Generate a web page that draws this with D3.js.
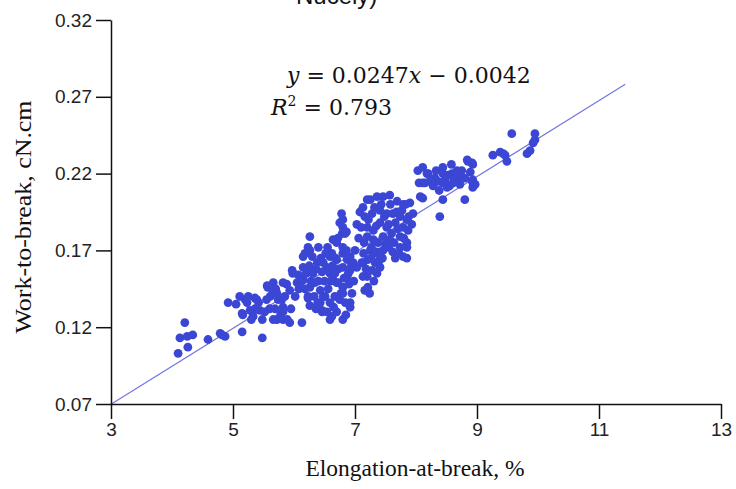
<!DOCTYPE html>
<html>
<head>
<meta charset="utf-8">
<script src="https://cdn.jsdelivr.net/npm/d3@7"></script>
<style>
  body { margin: 0; background: #fff; }
  svg { display: block; }
</style>
</head>
<body>
<div id="chart"></div>
<script>
// elongation-at-break (%) and work-to-break (cN.cm)
const elongation = [
  4.21, 4.13, 4.25, 4.34, 4.26, 4.10, 4.59, 4.79, 4.87, 4.82,
  4.92, 5.11, 5.23, 5.15, 5.15, 5.28, 5.36, 5.20, 5.16, 5.48,
  5.39, 5.36, 5.48, 5.33, 5.44,
  5.57, 5.66, 5.72, 5.80, 5.82, 5.89, 5.72, 5.93, 5.98, 6.05,
  6.15, 6.13, 6.23, 6.26, 6.43, 6.46, 6.59, 6.80, 6.31, 6.48,
  6.59, 6.70, 6.80, 6.92, 6.59, 6.80, 7.13, 7.20, 5.56, 5.82,
  5.66, 5.82, 5.93, 5.61, 5.74, 5.82, 5.69, 5.97, 6.07, 6.15,
  6.26, 6.23, 6.30, 6.38, 6.46, 6.54, 6.34, 6.43, 6.51, 6.59,
  6.23, 6.39, 6.46, 6.54, 6.62, 6.62, 6.70, 6.79, 6.75, 6.67,
  6.72, 6.80, 6.87, 6.92, 6.67, 6.75, 6.84, 6.92, 6.92, 6.97,
  7.03, 6.26, 6.15, 6.31, 6.64, 6.80, 6.70, 6.80, 6.64, 6.26,
  6.80, 6.84, 6.80, 6.87, 6.89, 7.16, 7.21, 7.20, 7.28, 7.36,
  7.38, 7.13, 7.25, 7.36, 7.46, 7.57, 7.69, 7.79, 7.90, 7.16,
  7.28, 7.41, 7.52, 7.62, 7.74, 7.85, 7.95, 7.20, 7.30, 7.41,
  7.52, 7.66, 7.79, 7.93, 7.20, 7.30, 7.46, 7.57, 7.74, 7.85,
  7.25, 7.36, 7.46, 7.62, 7.74, 7.85, 7.21, 7.33, 7.41, 7.79,
  7.85, 8.07, 8.11, 8.18, 7.87, 7.11, 7.13, 7.41, 7.20, 7.03,
  7.00,
  8.03, 8.11, 8.15, 8.23, 8.31, 8.36, 8.44, 8.44, 8.52, 8.59,
  8.61, 8.67, 8.72, 8.80, 8.85, 8.89, 8.93, 8.92, 8.97, 8.51,
  8.11, 8.44, 8.80, 8.39, 8.44, 8.61, 8.69, 8.93, 8.93, 8.72,
  8.92, 8.84,
  9.26, 9.38, 9.46, 9.49, 9.43, 9.57, 9.95, 9.95, 9.82, 9.87,
  9.92,
  // denser parts of the cloud
  7.15, 7.22, 7.27, 7.32, 7.35, 7.38, 7.43, 7.48, 7.50, 7.55,
  7.58, 7.60, 7.64, 7.68, 7.70, 7.72, 7.77, 7.80, 7.83, 7.88,
  7.14, 7.18, 7.26, 7.31, 7.24, 7.35, 7.45, 7.55, 7.66, 7.10,
  7.08, 7.06,
  6.02, 6.08, 6.12, 6.18, 6.20, 6.28, 6.33, 6.36, 6.40, 6.44,
  6.50, 6.52, 6.56, 6.60, 6.63, 6.65, 6.68, 6.73, 6.77, 6.82,
  6.86, 6.90, 6.94, 6.98, 6.36, 6.48, 6.70, 6.85, 6.95, 6.55,
  6.25, 6.40, 6.18, 6.72, 6.86, 6.78,
  5.05, 5.25, 5.30, 5.42, 5.52, 5.55, 5.60, 5.65, 5.70, 5.78,
  5.85, 5.88, 5.95,
  8.20, 8.28, 8.33, 8.48, 8.55, 8.65, 8.75, 8.05, 8.58, 8.38
];
const work = [
  0.123, 0.113, 0.114, 0.115, 0.107, 0.103, 0.112, 0.116, 0.114, 0.115,
  0.136, 0.140, 0.136, 0.129, 0.117, 0.131, 0.139, 0.138, 0.128, 0.113,
  0.138, 0.132, 0.125, 0.127, 0.131,
  0.146, 0.149, 0.142, 0.138, 0.130, 0.125, 0.125, 0.144, 0.155, 0.149,
  0.166, 0.123, 0.140, 0.134, 0.136, 0.130, 0.125, 0.125, 0.157, 0.162,
  0.155, 0.149, 0.142, 0.136, 0.166, 0.168, 0.162, 0.144, 0.147, 0.149,
  0.125, 0.125, 0.123, 0.140, 0.138, 0.133, 0.132, 0.157, 0.154, 0.151,
  0.179, 0.172, 0.166, 0.162, 0.156, 0.159, 0.149, 0.144, 0.140, 0.136,
  0.139, 0.136, 0.131, 0.130, 0.127, 0.168, 0.175, 0.181, 0.188, 0.155,
  0.149, 0.146, 0.153, 0.157, 0.140, 0.138, 0.136, 0.133, 0.166, 0.162,
  0.159, 0.170, 0.159, 0.155, 0.177, 0.185, 0.164, 0.159, 0.151, 0.146,
  0.190, 0.181, 0.172, 0.164, 0.155, 0.144, 0.146, 0.153, 0.157, 0.155,
  0.162, 0.198, 0.203, 0.205, 0.205, 0.206, 0.202, 0.200, 0.201, 0.192,
  0.194, 0.196, 0.194, 0.194, 0.192, 0.190, 0.194, 0.185, 0.183, 0.188,
  0.185, 0.188, 0.185, 0.187, 0.179, 0.177, 0.179, 0.177, 0.179, 0.175,
  0.170, 0.169, 0.170, 0.169, 0.172, 0.172, 0.164, 0.162, 0.164, 0.166,
  0.165, 0.205, 0.214, 0.220, 0.183, 0.162, 0.153, 0.159, 0.203, 0.187,
  0.170,
  0.222, 0.224, 0.214, 0.215, 0.217, 0.215, 0.224, 0.214, 0.219, 0.220,
  0.214, 0.222, 0.218, 0.217, 0.228, 0.221, 0.226, 0.215, 0.213, 0.211,
  0.204, 0.203, 0.203, 0.192, 0.220, 0.218, 0.216, 0.216, 0.211, 0.213,
  0.227, 0.229,
  0.232, 0.234, 0.232, 0.228, 0.233, 0.246, 0.246, 0.242, 0.233, 0.235,
  0.240,
  0.175, 0.190, 0.172, 0.198, 0.186, 0.175, 0.200, 0.192, 0.174, 0.187,
  0.200, 0.181, 0.175, 0.195, 0.184, 0.168, 0.196, 0.178, 0.200, 0.192,
  0.168, 0.158, 0.165, 0.150, 0.142, 0.168, 0.165, 0.172, 0.165, 0.185,
  0.195, 0.178,
  0.140, 0.145, 0.150, 0.145, 0.155, 0.150, 0.140, 0.158, 0.150, 0.165,
  0.150, 0.168, 0.145, 0.150, 0.160, 0.133, 0.165, 0.158, 0.142, 0.152,
  0.170, 0.148, 0.160, 0.150, 0.132, 0.140, 0.130, 0.128, 0.142, 0.172,
  0.160, 0.172, 0.168, 0.178, 0.182, 0.194,
  0.135, 0.140, 0.125, 0.136, 0.130, 0.138, 0.132, 0.142, 0.145, 0.128,
  0.140, 0.148, 0.132,
  0.220, 0.212, 0.222, 0.216, 0.212, 0.215, 0.222, 0.214, 0.226, 0.209
];

const xTicks = [3, 5, 7, 9, 11, 13];
const yTicks = [0.07, 0.12, 0.17, 0.22, 0.27, 0.32];

// trend line y = 0.0247x - 0.0042, drawn from x = 3 to x = 11.43
const slope = 0.0247;
const intercept = -0.0042;
const fitRange = [3, 11.43];

const width = 736;
const height = 489;

const svg = d3.select('#chart')
  .append('svg')
  .attr('width', width)
  .attr('height', height);

const x = d3.scaleLinear().domain([3, 13]).range([111, 721]);
const y = d3.scaleLinear().domain([0.07, 0.32]).range([404, 20]);

// caption of the figure above, cut by the top edge as in the source
svg.append('text')
  .attr('x', 296)
  .attr('y', 4)
  .attr('font-family', 'Liberation Sans, Arial, sans-serif')
  .attr('font-size', 24)
  .attr('fill', '#111')
  .text('Nucely)');

const data = elongation.map((e, i) => ({ e: e, w: work[i] }));

// fit line
svg.append('line')
  .attr('x1', x(fitRange[0]))
  .attr('y1', y(slope * fitRange[0] + intercept))
  .attr('x2', x(fitRange[1]))
  .attr('y2', y(slope * fitRange[1] + intercept))
  .attr('stroke', '#7478de')
  .attr('stroke-width', 1.2);

svg.selectAll('.dot')
  .data(data)
  .enter().append('circle')
  .attr('class', 'dot')
  .attr('cx', d => x(d.e))
  .attr('cy', d => y(d.w))
  .attr('r', 4.4)
  .attr('fill', '#3b47d4');

// axes
const xAxis = svg.append('g')
  .attr('transform', 'translate(0,404)')
  .call(d3.axisBottom(x).tickValues(xTicks).tickSize(15).tickSizeOuter(0).tickPadding(4));

const yAxis = svg.append('g')
  .attr('transform', 'translate(111,0)')
  .call(d3.axisLeft(y).tickValues(yTicks).tickSize(15).tickSizeOuter(0).tickPadding(4)
    .tickFormat(d3.format('.2f')));

[xAxis, yAxis].forEach(g => {
  g.select('.domain').attr('stroke', '#111').attr('stroke-width', 1.5);
  g.selectAll('.tick line').attr('stroke', '#111').attr('stroke-width', 1.5);
  g.selectAll('.tick text')
    .attr('font-family', 'Liberation Sans, Arial, sans-serif')
    .attr('font-size', 19)
    .attr('fill', '#222');
});

// axis titles
svg.append('text')
  .attr('x', 415)
  .attr('y', 476)
  .attr('text-anchor', 'middle')
  .attr('font-family', 'Liberation Serif, Times New Roman, serif')
  .attr('font-size', 23)
  .attr('textLength', 219)
  .attr('lengthAdjust', 'spacingAndGlyphs')
  .attr('fill', '#111')
  .text('Elongation-at-break, %');

svg.append('text')
  .attr('transform', 'translate(31,217) rotate(-90)')
  .attr('text-anchor', 'middle')
  .attr('font-family', 'Liberation Serif, Times New Roman, serif')
  .attr('font-size', 24)
  .attr('textLength', 233)
  .attr('lengthAdjust', 'spacingAndGlyphs')
  .attr('fill', '#111')
  .text('Work-to-break, cN.cm');

// equation
const eq = svg.append('text')
  .attr('x', 287)
  .attr('y', 83)
  .attr('font-family', 'DejaVu Serif, serif')
  .attr('font-size', 22)
  .attr('fill', '#111');
eq.append('tspan').attr('font-style', 'italic').text('y');
eq.append('tspan').text(' = 0.0247');
eq.append('tspan').attr('font-style', 'italic').text('x');
eq.append('tspan').text(' \u2212 0.0042');

const r2 = svg.append('text')
  .attr('x', 271)
  .attr('y', 115)
  .attr('font-family', 'DejaVu Serif, serif')
  .attr('font-size', 22)
  .attr('fill', '#111');
r2.append('tspan').attr('font-style', 'italic').text('R');
r2.append('tspan').attr('font-size', 14).attr('dy', -9).text('2');
r2.append('tspan').attr('dy', 9).text(' = 0.793');
</script>
</body>
</html>
